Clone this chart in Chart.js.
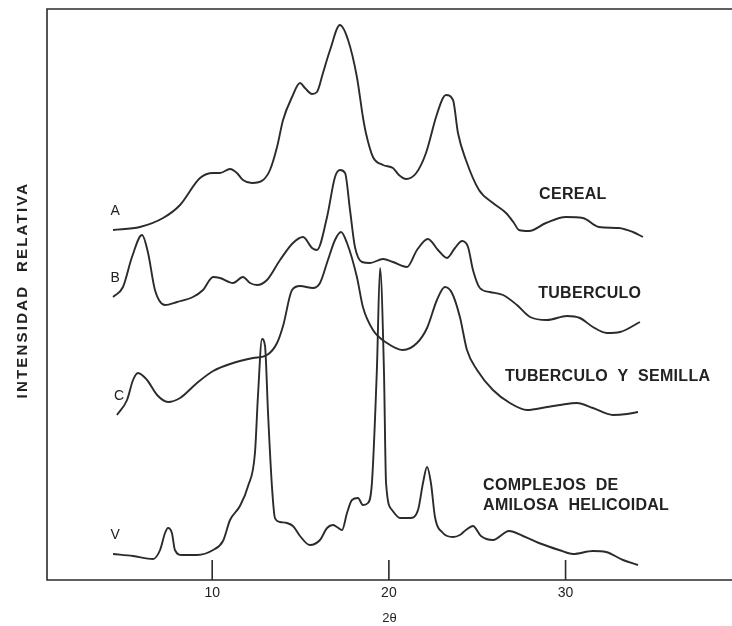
<!DOCTYPE html>
<html>
<head>
<meta charset="utf-8">
<script src="https://cdn.jsdelivr.net/npm/chart.js@4"></script>
<style>
  html, body { margin: 0; padding: 0; background: #fff; }
  #wrap { width: 732px; height: 626px; position: relative; }
</style>
</head>
<body>
<div id="wrap"><canvas id="xrd"></canvas></div>
<script>
// X-RAY DIFFRACTION PATTERNS (2 theta in degrees, relative intensity in arbitrary units)

// A - cereal
const cerealX = [4.39, 5.91, 7.22, 8.18, 9.31, 10.05, 10.44, 11.01, 11.40, 11.74, 12.25, 12.88, 13.27, 13.67, 14.01, 14.52, 14.97, 15.25, 15.65, 15.93, 16.27, 16.67, 17.23, 17.69, 18.19, 18.53, 18.70, 19.10, 19.67, 20.23, 20.57, 20.97, 21.55, 22.10, 22.67, 23.06, 23.23, 23.63, 23.91, 24.36, 25.10, 25.89, 26.63, 27.08, 27.36, 27.93, 28.89, 30.02, 30.98, 31.89, 33.02, 33.81, 34.38];
const cerealY = [350, 353, 362, 375, 402, 407, 407, 411, 407, 400, 397, 400, 410, 433, 460, 483, 497, 492, 486, 488, 507, 530, 555, 540, 503, 463, 447, 423, 415, 412, 405, 401, 407, 427, 463, 482, 485, 480, 447, 420, 390, 377, 367, 357, 350, 349, 357, 363, 362, 353, 352, 348, 343];

// B - tuberculo
const tuberX = [4.39, 4.95, 5.46, 6.03, 6.37, 6.76, 7.33, 8.01, 8.91, 9.48, 10.05, 10.44, 11.18, 11.74, 12.14, 12.54, 13.10, 13.84, 14.57, 15.14, 15.65, 15.93, 16.50, 16.95, 17.23, 17.52, 17.80, 18.08, 18.48, 18.93, 19.67, 20.23, 21.03, 21.59, 22.21, 22.78, 23.29, 23.74, 24.14, 24.48, 24.76, 25.15, 25.72, 26.46, 27.25, 27.99, 28.95, 30.08, 30.81, 31.55, 32.34, 33.08, 34.21];
const tuberY = [283, 293, 323, 345, 327, 290, 275, 278, 283, 290, 303, 302, 297, 303, 297, 295, 300, 320, 337, 343, 332, 330, 363, 403, 410, 407, 370, 333, 318, 317, 321, 318, 313, 330, 341, 330, 322, 332, 339, 333, 310, 292, 288, 285, 275, 263, 260, 264, 262, 253, 247, 248, 258];

// C - tuberculo y semilla
const mixX = [4.61, 5.18, 5.52, 5.80, 6.31, 6.88, 7.50, 8.18, 9.14, 10.05, 11.18, 12.31, 13.10, 13.67, 14.01, 14.52, 14.97, 15.70, 16.10, 16.55, 16.95, 17.29, 17.63, 18.19, 18.53, 19.10, 19.89, 20.80, 21.59, 22.16, 22.72, 23.17, 23.57, 24.02, 24.42, 24.99, 25.89, 26.85, 27.82, 28.95, 29.68, 30.64, 31.55, 32.68, 33.48, 34.10];
const mixY = [165, 180, 200, 207, 200, 185, 178, 182, 197, 209, 217, 222, 225, 237, 254, 290, 294, 292, 297, 320, 340, 348, 337, 303, 273, 250, 237, 230, 237, 252, 280, 293, 287, 263, 230, 210, 190, 177, 170, 173, 175, 177, 172, 165, 166, 168];

// V - complejos de amilosa helicoidal
const amyloseX = [4.39, 5.52, 6.65, 7.05, 7.33, 7.50, 7.72, 7.89, 8.29, 9.14, 10.05, 10.61, 11.01, 11.57, 12.03, 12.42, 12.59, 12.82, 12.99, 13.16, 13.38, 13.55, 13.84, 14.23, 14.57, 14.97, 15.53, 16.10, 16.50, 16.84, 17.06, 17.35, 17.63, 17.91, 18.25, 18.53, 18.82, 19.04, 19.32, 19.50, 19.72, 19.84, 20.18, 20.63, 21.20, 21.65, 21.93, 22.16, 22.38, 22.61, 23.06, 23.63, 24.02, 24.36, 24.76, 25.21, 25.89, 26.80, 27.59, 28.49, 29.63, 30.42, 31.55, 32.29, 33.25, 34.10];
const amyloseY = [26, 24, 21, 30, 47, 52, 47, 30, 25, 25, 30, 39, 60, 74, 94, 127, 184, 241, 234, 167, 94, 62, 58, 57, 54, 44, 35, 40, 52, 55, 53, 50, 67, 80, 82, 75, 77, 97, 210, 312, 210, 97, 70, 62, 62, 70, 97, 113, 97, 63, 47, 43, 45, 50, 54, 44, 40, 49, 44, 37, 30, 26, 29, 28, 20, 15];

const curveLetters = ['A', 'B', 'C', 'V'];
const groupNames = [['CEREAL'], ['TUBERCULO'], ['TUBERCULO  Y  SEMILLA'], ['COMPLEJOS  DE', 'AMILOSA  HELICOIDAL']];
const tickValues = [10, 20, 30];

// where the group names sit (data units)
const groupAnchors = [
  { x: 28.5, y: 385 },
  { x: 28.45, y: 286 },
  { x: 26.57, y: 203 },
  { x: 25.33, y: 94 }
];

const FONT = "'Liberation Sans', Arial, Helvetica, sans-serif";
const INK = '#2b2b2b';

function toPoints(xs, ys) {
  return xs.map((x, i) => ({ x: x, y: ys[i] }));
}

const series = [
  toPoints(cerealX, cerealY),
  toPoints(tuberX, tuberY),
  toPoints(mixX, mixY),
  toPoints(amyloseX, amyloseY)
];

// frame, inward ticks and text labels
const decor = {
  id: 'decor',
  afterDatasetsDraw(chart) {
    const ctx = chart.ctx;
    const a = chart.chartArea;
    const xs = chart.scales.x;
    const ys = chart.scales.y;
    ctx.save();
    ctx.strokeStyle = INK;
    ctx.lineWidth = 1.6;
    ctx.beginPath();
    ctx.moveTo(a.right + 4, a.top);
    ctx.lineTo(a.left, a.top);
    ctx.lineTo(a.left, a.bottom);
    ctx.lineTo(a.right + 4, a.bottom);
    tickValues.forEach(v => {
      const px = xs.getPixelForValue(v);
      ctx.moveTo(px, a.bottom);
      ctx.lineTo(px, a.bottom - 20);
    });
    ctx.stroke();

    ctx.fillStyle = '#222';
    // curve letters
    ctx.font = '14px ' + FONT;
    ctx.textAlign = 'center';
    ctx.textBaseline = 'middle';
    curveLetters.forEach((l, i) => {
      const p = chart.getDatasetMeta(i).data[0];
      ctx.fillText(l, p.x + 2, p.y - 19);
    });

    // group names
    ctx.font = 'bold 16px ' + FONT;
    ctx.letterSpacing = '0.3px';
    ctx.textAlign = 'left';
    groupNames.forEach((lines, i) => {
      const px = xs.getPixelForValue(groupAnchors[i].x);
      const py = ys.getPixelForValue(groupAnchors[i].y);
      lines.forEach((t, j) => ctx.fillText(t, px, py + j * 20));
    });

    // y title
    ctx.font = 'bold 15px ' + FONT;
    ctx.letterSpacing = '2.2px';
    ctx.translate(23, a.top + 281);
    ctx.rotate(-Math.PI / 2);
    ctx.textAlign = 'center';
    ctx.fillText('INTENSIDAD  RELATIVA', 0, 0);
    ctx.restore();
  }
};

const data = {
  datasets: series.map((pts, i) => ({
    label: curveLetters[i],
    data: pts,
    borderColor: INK,
    borderWidth: 1.9,
    pointRadius: 0,
    fill: false,
    cubicInterpolationMode: 'monotone'
  }))
};

const config = {
  type: 'line',
  data,
  options: {
    responsive: true,
    maintainAspectRatio: false,
    animation: false,
    events: [],
    layout: { padding: { left: 47, top: 9, right: 0, bottom: 0 } },
    plugins: {
      legend: { display: false },
      tooltip: { enabled: false }
    },
    scales: {
      x: {
        type: 'linear',
        min: 0.65,
        max: 39.42,
        afterBuildTicks: axis => { axis.ticks = tickValues.map(v => ({ value: v })); },
        grid: { display: false, drawTicks: false },
        border: { display: false },
        ticks: {
          padding: 5,
          color: '#222',
          font: { family: FONT, size: 14 },
          maxRotation: 0
        },
        title: {
          display: true,
          text: '2θ',
          color: '#222',
          font: { family: FONT, size: 13 },
          padding: { top: 3.6, bottom: 0 }
        }
      },
      y: {
        display: false,
        min: 0,
        max: 571
      }
    }
  },
  plugins: [decor]
};

const xrdChart = new Chart(document.getElementById('xrd'), config);
</script>
</body>
</html>
